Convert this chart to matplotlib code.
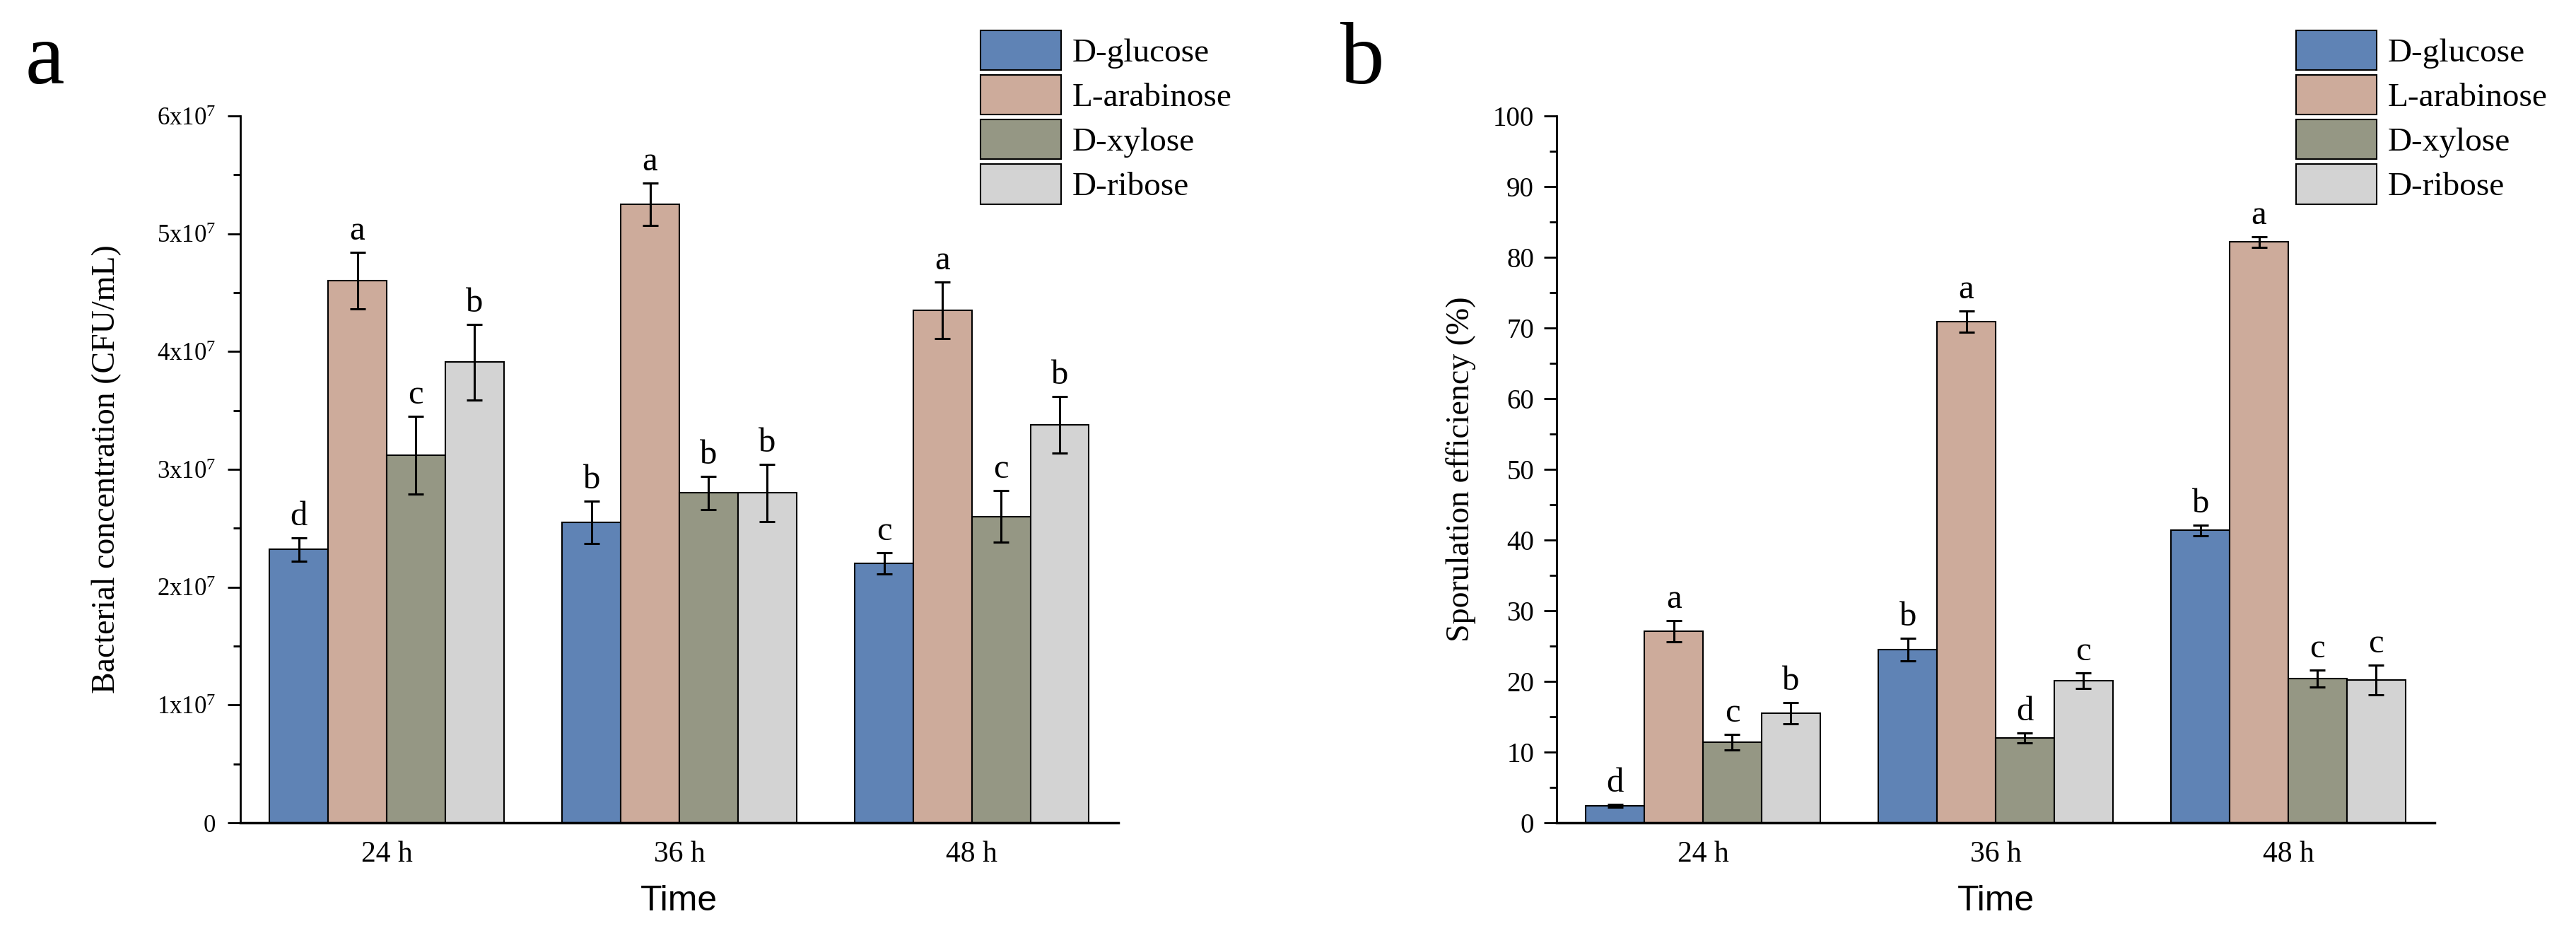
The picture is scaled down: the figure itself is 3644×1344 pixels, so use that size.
import numpy as np
import matplotlib
matplotlib.use('Agg')
import matplotlib.pyplot as plt
from matplotlib import ticker

plt.rcParams['font.family'] = ['Liberation Serif', 'DejaVu Serif']
plt.rcParams['mathtext.fontset'] = 'custom'
plt.rcParams['mathtext.rm'] = 'Liberation Serif'

# ---------------- data ----------------
times = ['24 h', '36 h', '48 h']
sugars = ['D-glucose', 'L-arabinose', 'D-xylose', 'D-ribose']
colors = ['#5F83B5', '#CDAB9B', '#959784', '#D3D3D3']

# panel a: bacterial concentration, in units of 1e7 CFU/mL
conc_glucose = [2.32, 2.55, 2.20]
conc_arabinose = [4.60, 5.25, 4.35]
conc_xylose = [3.12, 2.80, 2.60]
conc_ribose = [3.91, 2.80, 3.38]
conc_err_glucose = [0.10, 0.18, 0.09]
conc_err_arabinose = [0.24, 0.18, 0.24]
conc_err_xylose = [0.33, 0.14, 0.22]
conc_err_ribose = [0.32, 0.245, 0.24]
conc_letters = [['d', 'b', 'c'], ['a', 'a', 'a'], ['c', 'b', 'c'], ['b', 'b', 'b']]

# panel b: sporulation efficiency (%)
spor_glucose = [2.4, 24.5, 41.4]
spor_arabinose = [27.1, 70.9, 82.2]
spor_xylose = [11.4, 12.0, 20.4]
spor_ribose = [15.5, 20.1, 20.2]
spor_err_glucose = [0.2, 1.6, 0.75]
spor_err_arabinose = [1.5, 1.5, 0.75]
spor_err_xylose = [1.1, 0.7, 1.2]
spor_err_ribose = [1.5, 1.1, 2.1]
spor_letters = [['d', 'b', 'b'], ['a', 'a', 'a'], ['c', 'd', 'c'], ['b', 'c', 'c']]


def draw_panel(ax, values, errors, letters, scale, anchor):
    x = np.arange(len(times))
    width = 0.2
    for i, (vals, errs, lets) in enumerate(zip(values, errors, letters)):
        vals = np.array(vals) * scale
        errs = np.array(errs) * scale
        pos = x + (i - 1.5) * width
        ax.bar(pos, vals, width, yerr=errs, color=colors[i], edgecolor='black',
               linewidth=1.5, label=sugars[i], zorder=2,
               error_kw=dict(ecolor='black', elinewidth=2.2, capsize=8, capthick=2.2, zorder=3))
        for p, v, e, t in zip(pos, vals, errs, lets):
            ax.annotate(t, (p, v + e), xytext=(0, 13), textcoords='offset points',
                        ha='center', va='baseline', fontsize=35)
    ax.set_xticks(x)
    ax.set_xticklabels(times)
    ax.set_xlim(-0.5, 2.5)
    ax.spines['top'].set_visible(False)
    ax.spines['right'].set_visible(False)
    ax.spines['left'].set_linewidth(2)
    ax.spines['bottom'].set_linewidth(2.5)
    ax.tick_params(axis='x', length=0, pad=18, labelsize=30)
    ax.tick_params(axis='y', which='major', direction='out', length=13, width=2)
    ax.tick_params(axis='y', which='minor', direction='out', length=7, width=2)
    ax.set_xlabel('Time', family='Liberation Sans', fontsize=36)
    ax.xaxis.set_label_coords(0.5, -0.088)
    ax.legend(loc='upper left', frameon=False, fontsize=34, handlelength=2.42,
              handleheight=1.45, labelspacing=0.15, handletextpad=0.33, borderpad=0,
              borderaxespad=0, bbox_transform=ax.figure.transFigure,
              bbox_to_anchor=anchor)


fig = plt.figure(figsize=(36.44, 13.44), dpi=100)
ax_a = fig.add_axes([0.0933, 0.1339, 0.3408, 0.744])
ax_b = fig.add_axes([0.6043, 0.1339, 0.3408, 0.744])

# ---- panel a ----
draw_panel(ax_a, [conc_glucose, conc_arabinose, conc_xylose, conc_ribose],
           [conc_err_glucose, conc_err_arabinose, conc_err_xylose, conc_err_ribose],
           conc_letters, 1e7, (0.3806, 0.968))
ax_a.set_ylim(0, 6e7)
ax_a.yaxis.set_major_locator(ticker.MultipleLocator(1e7))
ax_a.yaxis.set_minor_locator(ticker.MultipleLocator(0.5e7))


def conc_fmt(v, pos):
    n = int(round(v / 1e7))
    if n == 0:
        return '0'
    return r'$\mathregular{%dx10^{7}}$' % n


ax_a.yaxis.set_major_formatter(ticker.FuncFormatter(conc_fmt))
ax_a.tick_params(axis='y', labelsize=25, pad=12)
ax_a.set_ylabel('Bacterial concentration (CFU/mL)', fontsize=33)
ax_a.yaxis.set_label_coords(-0.135, 0.5)

# ---- panel b ----
draw_panel(ax_b, [spor_glucose, spor_arabinose, spor_xylose, spor_ribose],
           [spor_err_glucose, spor_err_arabinose, spor_err_xylose, spor_err_ribose],
           spor_letters, 1, (0.8913, 0.968))
ax_b.set_ylim(0, 100)
ax_b.yaxis.set_major_locator(ticker.MultipleLocator(10))
ax_b.yaxis.set_minor_locator(ticker.MultipleLocator(5))
ax_b.tick_params(axis='y', labelsize=28, pad=10)
ax_b.set_ylabel('Sporulation efficiency (%)', fontsize=33)
ax_b.yaxis.set_label_coords(-0.092, 0.5)

# panel labels
fig.text(0.0099, 0.912, 'a', fontsize=90, va='baseline')
fig.text(0.5203, 0.912, 'b', fontsize=90, va='baseline')

fig.savefig('out.png', dpi=100)
